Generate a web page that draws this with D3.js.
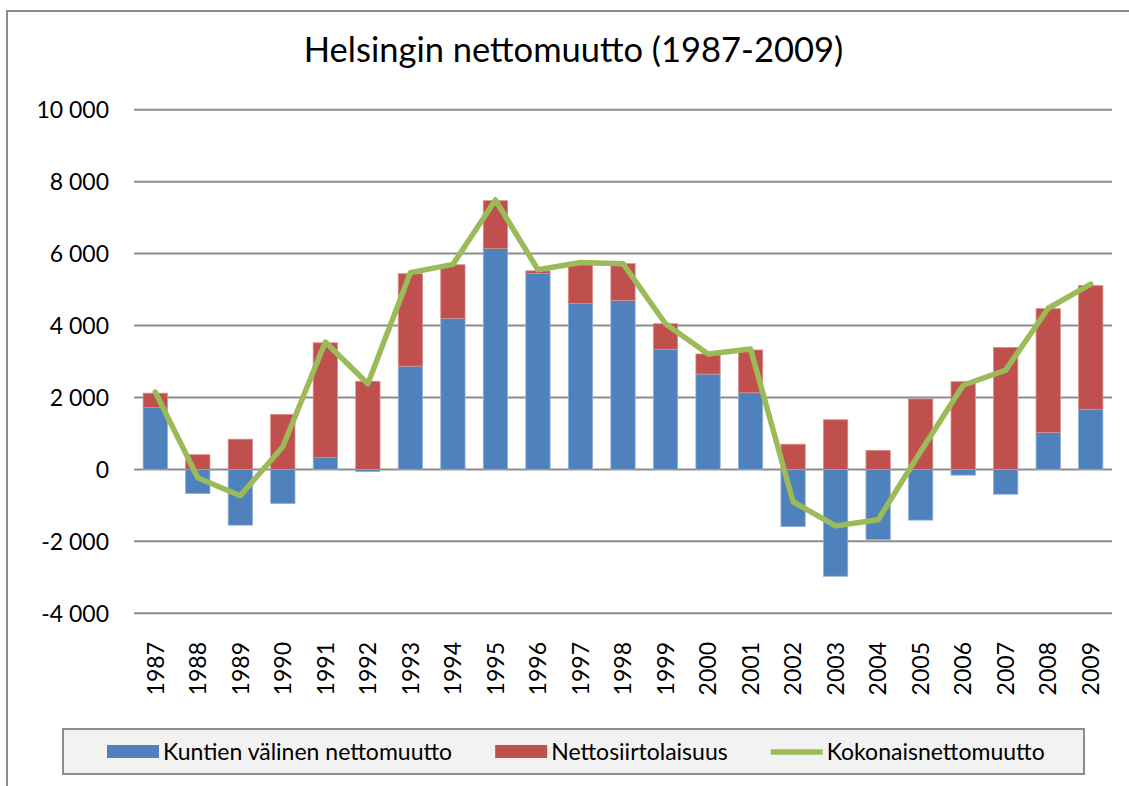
<!DOCTYPE html>
<html>
<head>
<meta charset="utf-8">
<script src="https://cdn.jsdelivr.net/npm/d3@7/dist/d3.min.js"></script>
<style>
  html, body { margin: 0; padding: 0; background: #fff; }
  svg { display: block; }
  text { font-family: Lato, "Open Sans", sans-serif; fill: #000; }
</style>
</head>
<body>
<svg id="chart" width="1129" height="786"></svg>
<script>
// ---- data ----
const years = ["1987","1988","1989","1990","1991","1992","1993","1994","1995","1996","1997","1998",
               "1999","2000","2001","2002","2003","2004","2005","2006","2007","2008","2009"];
const kuntienValinen = [1720, -670, -1550, -950, 330, -60, 2870, 4200, 6140, 5450, 4610, 4700,
                        3340, 2650, 2130, -1590, -2970, -1950, -1410, -160, -690, 1030, 1670];
const nettosiirtolaisuus = [400, 410, 840, 1530, 3190, 2450, 2570, 1490, 1330, 70, 1120, 1020,
                            710, 560, 1190, 700, 1380, 530, 1960, 2440, 3390, 3440, 3440];
const kokonais = [2150, -230, -730, 630, 3540, 2380, 5470, 5700, 7490, 5550, 5750, 5720,
                  4050, 3210, 3350, -900, -1570, -1400, 500, 2340, 2760, 4480, 5150];
const yTicks = [-4000, -2000, 0, 2000, 4000, 6000, 8000, 10000];
const seriesNames = ["Kuntien välinen nettomuutto", "Nettosiirtolaisuus", "Kokonaisnettomuutto"];
const title = "Helsingin nettomuutto (1987-2009)";

// ---- drawing ----
const svg = d3.select("#chart");
const colors = { blue: "#4f81bd", red: "#c0504d", green: "#9bbb59" };
const gridColor = "#8c8c8c";

// outer chart border
svg.append("rect").attr("x", 7).attr("y", 11).attr("width", 1140).attr("height", 800)
  .attr("fill", "#fff").attr("stroke", gridColor).attr("stroke-width", 2);

const x = d3.scaleBand().domain(years).range([134, 1112]).padding(0);
const y = d3.scaleLinear().domain([-4000, 10000]).range([613.3, 109.7]);
const barW = x.bandwidth() / 1.75;

// gridlines
svg.append("g").selectAll("line").data(yTicks).join("line")
  .attr("x1", 134).attr("x2", 1112)
  .attr("y1", d => y(d)).attr("y2", d => y(d))
  .attr("stroke", gridColor).attr("stroke-width", 2);

// y labels
const fmt = v => d3.format(",")(v).replace(/,/g, " ").replace("\u2212", "-");
svg.append("g").selectAll("text").data(yTicks).join("text")
  .attr("x", 109).attr("y", d => y(d)).attr("dy", "0.36em")
  .attr("text-anchor", "end").attr("font-size", 23)
  .text(d => fmt(d));

// stacked bars (diverging, like Excel)
const rows = years.map((yr, i) => ({ year: yr, k: kuntienValinen[i], n: nettosiirtolaisuus[i] }));
const stack = d3.stack().keys(["k", "n"]).offset(d3.stackOffsetDiverging);
const stacked = stack(rows);
const fillFor = { k: colors.blue, n: colors.red };
const strokeFor = { k: "#8fb0d8", n: "#d98c8a" };
svg.append("g").selectAll("g").data(stacked).join("g")
  .attr("fill", d => fillFor[d.key])
  .attr("stroke", d => strokeFor[d.key]).attr("stroke-width", 0.8)
  .selectAll("rect").data(d => d).join("rect")
  .attr("x", d => x(d.data.year) + (x.bandwidth() - barW) / 2)
  .attr("width", barW)
  .attr("y", d => y(Math.max(d[0], d[1])))
  .attr("height", d => Math.abs(y(d[0]) - y(d[1])));

// total line
const line = d3.line()
  .x((d, i) => x(years[i]) + x.bandwidth() / 2)
  .y(d => y(d));
svg.append("path").datum(kokonais)
  .attr("d", line).attr("fill", "none")
  .attr("stroke", colors.green).attr("stroke-width", 5.5)
  .attr("stroke-linejoin", "round").attr("stroke-linecap", "round");

// x labels (rotated)
svg.append("g").selectAll("text").data(years).join("text")
  .attr("transform", d => `translate(${x(d) + x.bandwidth() / 2},642) rotate(-90)`)
  .attr("text-anchor", "end").attr("dy", "0.36em").attr("font-size", 23)
  .text(d => d);

// title
svg.append("text").attr("x", 573.5).attr("y", 62).attr("text-anchor", "middle")
  .attr("font-size", 34.5).text(title);

// legend
svg.append("rect").attr("x", 63).attr("y", 729).attr("width", 1021).attr("height", 45)
  .attr("fill", "#f2f2f2").attr("stroke", gridColor).attr("stroke-width", 2);
const legendItems = [
  { name: seriesNames[0], type: "rect", color: colors.blue },
  { name: seriesNames[1], type: "rect", color: colors.red },
  { name: seriesNames[2], type: "line", color: colors.green }
];
const lg = svg.append("g");
let lx = 107;
legendItems.forEach(it => {
  if (it.type === "rect") {
    lg.append("rect").attr("x", lx).attr("y", 745).attr("width", 52).attr("height", 13).attr("fill", it.color);
  } else {
    lg.append("line").attr("x1", lx).attr("x2", lx + 52).attr("y1", 752).attr("y2", 752)
      .attr("stroke", it.color).attr("stroke-width", 5.5);
  }
  const t = lg.append("text").attr("x", lx + 56).attr("y", 752).attr("dy", "0.36em")
    .attr("font-size", 23).text(it.name);
  lx = lx + 56 + t.node().getComputedTextLength() + 43;
});
</script>
</body>
</html>
